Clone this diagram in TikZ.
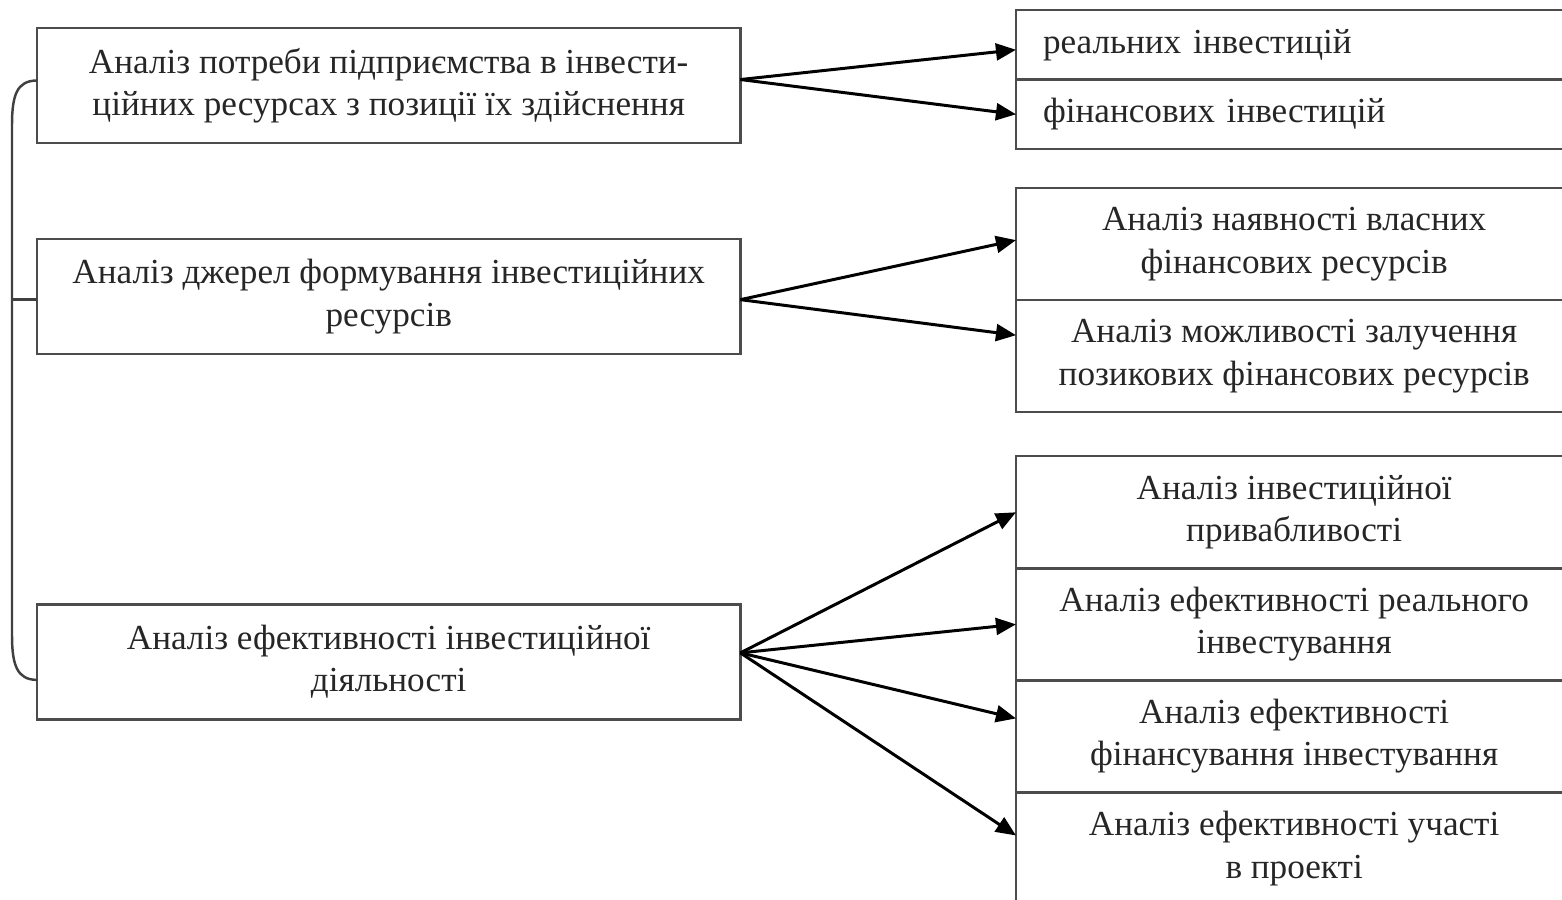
\documentclass[tikz,border=0pt]{standalone}
\usepackage{fontspec}
\setmainfont{Liberation Serif}
\usetikzlibrary{arrows.meta, positioning, calc}

\begin{document}
\begin{tikzpicture}[
    x=0.01cm, y=-0.01cm,
    >={Triangle[length=5.7pt, width=4.8pt]},
    font=\fontsize{10}{12}\selectfont,
    leftnode/.style={rectangle, draw=black!70, line width=0.7pt, text=black!85, align=center, minimum width=7.03cm, minimum height=1.15cm, outer sep=0pt},
    listnode/.style={rectangle, draw=black!70, line width=0.7pt, text=black!85, align=left, text width=5.02cm, inner xsep=0.27cm, minimum height=0.695cm, outer sep=0pt},
    rightnode/.style={rectangle, draw=black!70, line width=0.7pt, text=black!85, align=center, minimum width=5.56cm, minimum height=1.12cm, outer sep=0pt},
    arrowline/.style={->, black, line width=0.85pt},
    bracketline/.style={black!75, line width=0.7pt}
  ]
  \useasboundingbox (0,0) rectangle (1562,900);
  \clip (0,0) rectangle (1562,900);

  % Left column
  \node[leftnode, anchor=north west] (l1) at (37,28) {Аналіз потреби підприємства в інвести-\\ційних ресурсах з позиції їх здійснення};
  \node[leftnode, below=0.96cm of l1] (l2) {Аналіз джерел формування інвестиційних\\ресурсів};
  \node[leftnode, below=2.5cm of l2] (l3) {Аналіз ефективності інвестиційної\\діяльності};

  % Right column
  \node[listnode, anchor=north west] (r1a) at (1016,10) {реальних інвестицій};
  \node[listnode, below=0cm of r1a] (r1b) {фінансових інвестицій};

  \node[rightnode, below=0.39cm of r1b] (r2a) {Аналіз наявності власних\\фінансових ресурсів};
  \node[rightnode, below=0cm of r2a] (r2b) {Аналіз можливості залучення\\позикових фінансових ресурсів};

  \node[rightnode, below=0.44cm of r2b] (r3a) {Аналіз інвестиційної\\привабливості};
  \node[rightnode, below=0cm of r3a] (r3b) {Аналіз ефективності реального\\інвестування};
  \node[rightnode, below=0cm of r3b] (r3c) {Аналіз ефективності\\фінансування інвестування};
  \node[rightnode, below=0cm of r3c] (r3d) {Аналіз ефективності участі\\в проекті};

  % Arrows
  \draw[arrowline] ($(l1.east)+(0,-6)$) -- ($(r1a.west)+(0,5)$);
  \draw[arrowline] ($(l1.east)+(0,-6)$) -- (r1b.west);
  \draw[arrowline] ($(l2.east)+(0,3)$) -- ($(r2a.west)+(0,-4)$);
  \draw[arrowline] ($(l2.east)+(0,3)$) -- ($(r2b.west)+(0,-21)$);
  \draw[arrowline] ($(l3.east)+(0,-9)$) -- (r3a.west);
  \draw[arrowline] ($(l3.east)+(0,-9)$) -- (r3b.west);
  \draw[arrowline] ($(l3.east)+(0,-9)$) -- ($(r3c.west)+(0,-18)$);
  \draw[arrowline] ($(l3.east)+(0,-9)$) -- ($(r3d.west)+(0,-13)$);

  % Bracket
  \coordinate (bt) at (12,125);
  \coordinate (bb) at (12,635);
  \coordinate (bm) at ($(l2.west)+(0,3)$);
  \draw[bracketline] ($(l1.west)+(0,-5)$) .. controls +(-20,0) and +(0,-30) .. (bt) -- (bb) .. controls +(0,30) and +(-20,0) .. ($(l3.west)+(0,18)$);
  \draw[bracketline] (bt |- bm) -- (bm);

\end{tikzpicture}
\end{document}
